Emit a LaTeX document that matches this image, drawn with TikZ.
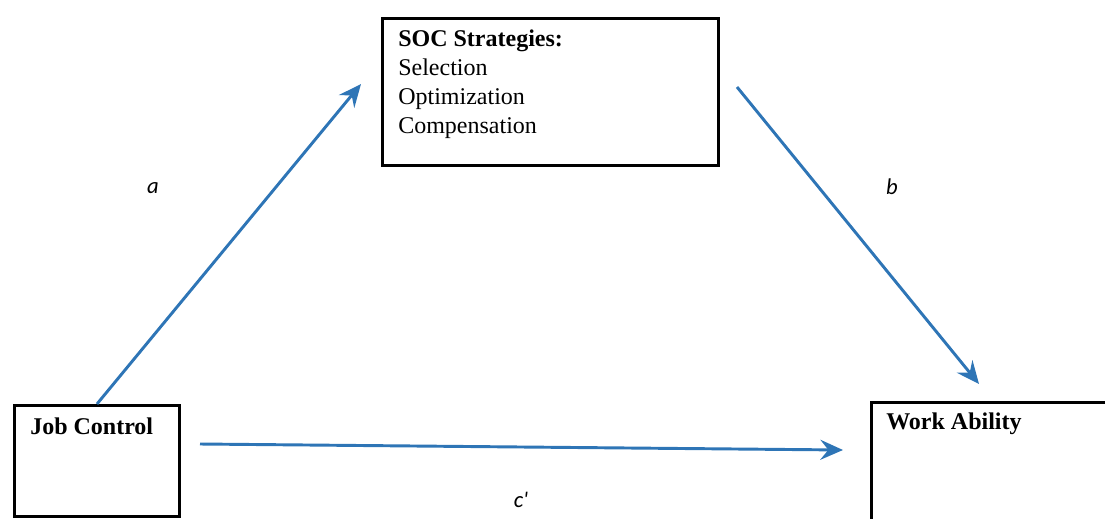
\documentclass[tikz,border=0pt]{standalone}
\usepackage{fontspec}
\setmainfont{Liberation Serif}
\newfontfamily\pathfont{Carlito}
\usetikzlibrary{arrows.meta}

\definecolor{pathblue}{RGB}{46,117,182}

\tikzset{
  varbox/.style={draw=black, line width=2.2pt, anchor=north west, inner sep=0pt},
  vartext/.style={anchor=north west, align=left, inner sep=0pt,
    font=\fontsize{18}{21.75}\selectfont},
  pathline/.style={draw=pathblue, line width=2.2pt,
    -{Stealth[length=17pt,width=15pt,inset=6pt]}},
  pathlabel/.style={font=\pathfont\itshape\fontsize{17}{20}\selectfont}
}

\begin{document}
\begin{tikzpicture}[x=0.75pt, y=-0.75pt]
    \useasboundingbox (0,0) rectangle (1105,518);
    \clip (0,0) rectangle (1105,518);
          % boxes
          \node[varbox, minimum width=336*0.75pt, minimum height=147*0.75pt] (soc) at (381,17) {};
          \node[varbox, minimum width=165*0.75pt, minimum height=111*0.75pt] (jc) at (13,404) {};
          \node[varbox, minimum width=300*0.75pt, minimum height=160*0.75pt] (wa) at (870,401) {};
          \node[vartext] (soctext) at (398,30) {\textbf{SOC Strategies:}\\Selection\\Optimization\\Compensation};
          \node[vartext] (jctext) at (30,418) {\textbf{Job Control}};
          \node[vartext] (watext) at (886,413) {\textbf{Work Ability}};
        % paths
        \coordinate (aend) at (361,84);
        \coordinate (bstart) at (737,87);
        \coordinate (bend) at (979,384);
        \coordinate (cstart) at (200,444);
        \coordinate (cend) at (843,450);
        \draw[pathline] (jc.north) -- (aend);
        \draw[pathline] (bstart) -- (bend);
        \draw[pathline] (cstart) -- (cend);
          \node[pathlabel] (alabel) at (153,188) {a};
          \node[pathlabel] (blabel) at (892,187) {b};
          \node[pathlabel] (clabel) at (521,500) {c'};
    \end{tikzpicture}
\end{document}
